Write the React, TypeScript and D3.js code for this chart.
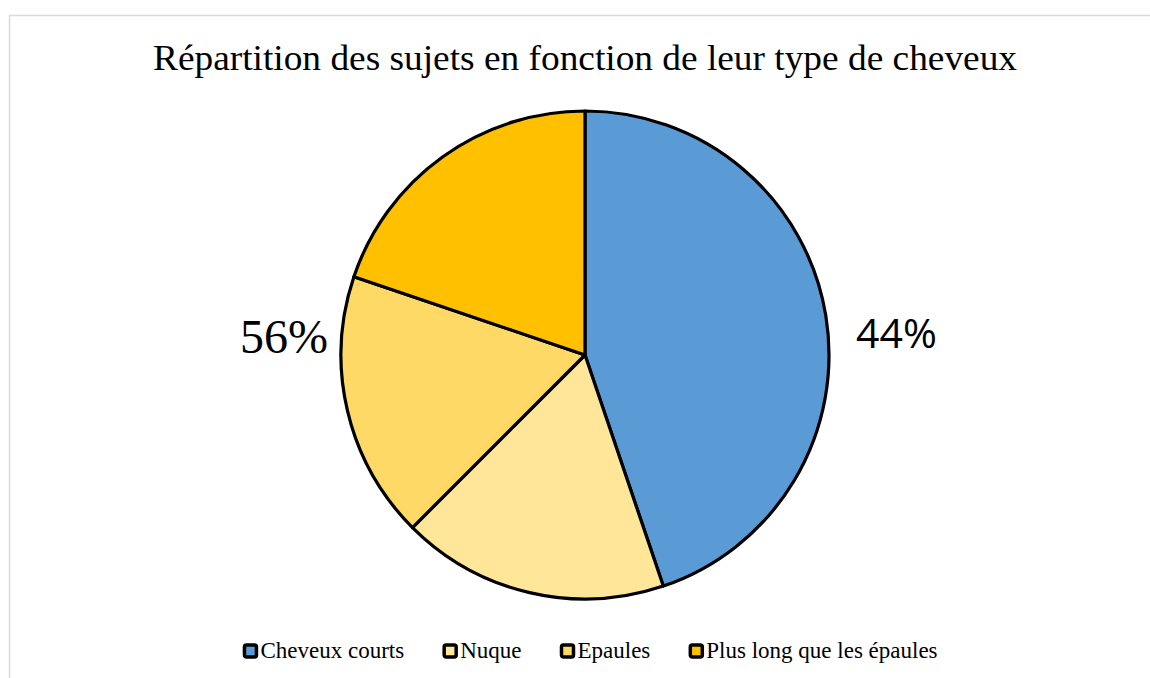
import * as d3 from 'd3';
import React, { useEffect, useRef } from 'react';

const categories = ['Cheveux courts', 'Nuque', 'Epaules', 'Plus long que les épaules'];
const values = [44.8, 17.7, 17.7, 19.8];
const colors = ['#5b9bd5', '#ffe699', '#ffd966', '#ffc000'];
const title = 'Répartition des sujets en fonction de leur type de cheveux';
const labelRight = '44%';
const labelLeft = '56%';

const W = 1150;
const H = 678;

const App: React.FC = () => {
  const ref = useRef<SVGSVGElement>(null);

  useEffect(() => {
    const svg = d3.select(ref.current);
    svg.selectAll('*').remove();

    // chart frame
    svg.append('rect')
      .attr('x', 9.5).attr('y', 15.5)
      .attr('width', W + 10).attr('height', H + 10)
      .attr('fill', 'white').attr('stroke', '#d9d9d9').attr('stroke-width', 1.5);

    svg.append('text')
      .attr('x', 585).attr('y', 70)
      .attr('text-anchor', 'middle')
      .attr('font-family', '"Liberation Serif", "Times New Roman", serif')
      .attr('font-size', 35)
      .attr('textLength', 864)
      .attr('lengthAdjust', 'spacingAndGlyphs')
      .attr('fill', '#000')
      .text(title);

    const cx = 585, cy = 355, r = 244;
    const pie = d3.pie<number>().sort(null).value(d => d);
    const arc = d3.arc<d3.PieArcDatum<number>>().innerRadius(0).outerRadius(r);
    const g = svg.append('g').attr('transform', `translate(${cx},${cy})`);
    g.selectAll('path')
      .data(pie(values))
      .join('path')
      .attr('d', arc)
      .attr('fill', (_, i) => colors[i])
      .attr('stroke', '#000')
      .attr('stroke-width', 3.2)
      .attr('stroke-linejoin', 'round');

    svg.append('text')
      .attr('x', 856).attr('y', 348)
      .attr('font-family', '"Open Sans", "Liberation Sans", sans-serif')
      .attr('font-size', 41)
      .attr('fill', '#000')
      .text(labelRight);

    svg.append('text')
      .attr('x', 328).attr('y', 353)
      .attr('text-anchor', 'end')
      .attr('font-family', '"Liberation Serif", "Times New Roman", serif')
      .attr('font-size', 48)
      .attr('fill', '#000')
      .text(labelLeft);

    // legend
    const legend = svg.append('g');
    const items = legend.selectAll('g')
      .data(categories)
      .join('g');
    items.append('rect')
      .attr('x', 2).attr('y', -13)
      .attr('width', 12).attr('height', 12)
      .attr('rx', 2)
      .attr('fill', (_, i) => colors[i])
      .attr('stroke', '#000').attr('stroke-width', 3.5);
    const texts = items.append('text')
      .attr('x', 18).attr('y', 0)
      .attr('font-family', '"Liberation Serif", "Times New Roman", serif')
      .attr('font-size', 23)
      .attr('fill', '#000')
      .text(d => d);
    const widths = texts.nodes().map(n => (n as SVGTextElement).getComputedTextLength() + 18);
    const gap = 38;
    const total = d3.sum(widths) + gap * (widths.length - 1);
    let x = 590 - total / 2;
    items.each(function (_, i) {
      d3.select(this).attr('transform', `translate(${x},658)`);
      x += widths[i] + gap;
    });
  }, []);

  return (
    <div style={{ position: 'absolute', left: 0, top: 0, background: 'white' }}>
      <svg ref={ref} width={W} height={H} />
    </div>
  );
};

export default App;
